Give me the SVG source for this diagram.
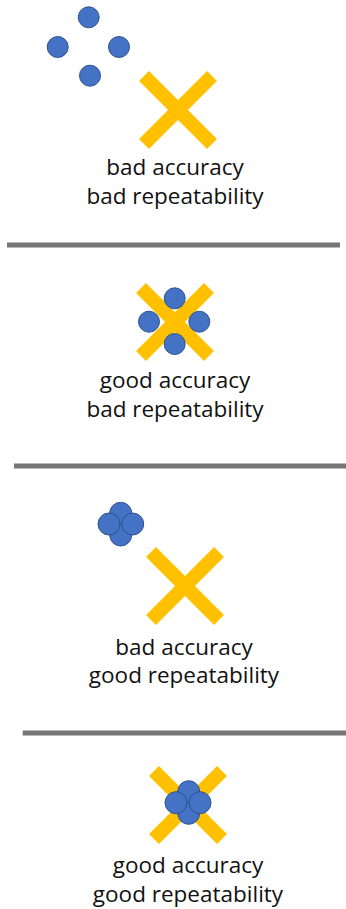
<svg xmlns="http://www.w3.org/2000/svg" width="346" height="909" viewBox="0 0 346 909">
<style>
.dot{fill:#4472C4;stroke:#2F528F;stroke-width:1}
.x{stroke:#FFC000;stroke-width:14;stroke-linecap:butt}
.sep{stroke:#767676;stroke-width:5}
.lbl{font-family:"Open Sans","Noto Sans","Liberation Sans",sans-serif;font-size:22.5px;fill:#111;text-anchor:middle}
</style>
<rect width="346" height="909" fill="#fff"/>
<g id="panel1">
<g class="x"><line x1="144" y1="76" x2="212" y2="144"/><line x1="212" y1="76" x2="144" y2="144"/></g>
<circle class="dot" cx="88.7" cy="17.3" r="10.5"/>
<circle class="dot" cx="57.7" cy="47" r="10.5"/>
<circle class="dot" cx="119" cy="47" r="10.5"/>
<circle class="dot" cx="90" cy="75.7" r="10.5"/>
<text class="lbl" x="175" y="175">bad accuracy</text>
<text class="lbl" x="175" y="204">bad repeatability</text>
</g>
<g id="panel2">
<g class="x"><line x1="141" y1="288" x2="209" y2="356"/><line x1="209" y1="288" x2="141" y2="356"/></g>
<circle class="dot" cx="174.7" cy="298.3" r="10.5"/>
<circle class="dot" cx="149" cy="321.7" r="10.5"/>
<circle class="dot" cx="199.3" cy="321.7" r="10.5"/>
<circle class="dot" cx="174.7" cy="344" r="10.5"/>
<text class="lbl" x="175" y="388">good accuracy</text>
<text class="lbl" x="175" y="417">bad repeatability</text>
</g>
<g id="panel3">
<g class="x"><line x1="151" y1="552" x2="219" y2="620"/><line x1="219" y1="552" x2="151" y2="620"/></g>
<circle class="dot" cx="120.7" cy="513.3" r="11"/>
<circle class="dot" cx="120.7" cy="535" r="11"/>
<circle class="dot" cx="109" cy="524" r="11"/>
<circle class="dot" cx="132.7" cy="524" r="11"/>
<text class="lbl" x="184" y="655">bad accuracy</text>
<text class="lbl" x="184" y="683">good repeatability</text>
</g>
<g id="panel4">
<g class="x"><line x1="154" y1="771" x2="222" y2="839"/><line x1="222" y1="771" x2="154" y2="839"/></g>
<circle class="dot" cx="188.7" cy="791.7" r="11"/>
<circle class="dot" cx="188.7" cy="813.3" r="11"/>
<circle class="dot" cx="176" cy="802.7" r="11"/>
<circle class="dot" cx="200" cy="802.7" r="11"/>
<text class="lbl" x="188" y="873">good accuracy</text>
<text class="lbl" x="188" y="902">good repeatability</text>
</g>
<g id="separators">
<line class="sep" x1="7" y1="245" x2="340" y2="245"/>
<line class="sep" x1="14" y1="466" x2="346" y2="466"/>
<line class="sep" x1="22.7" y1="733" x2="346" y2="733"/>
</g>
</svg>
